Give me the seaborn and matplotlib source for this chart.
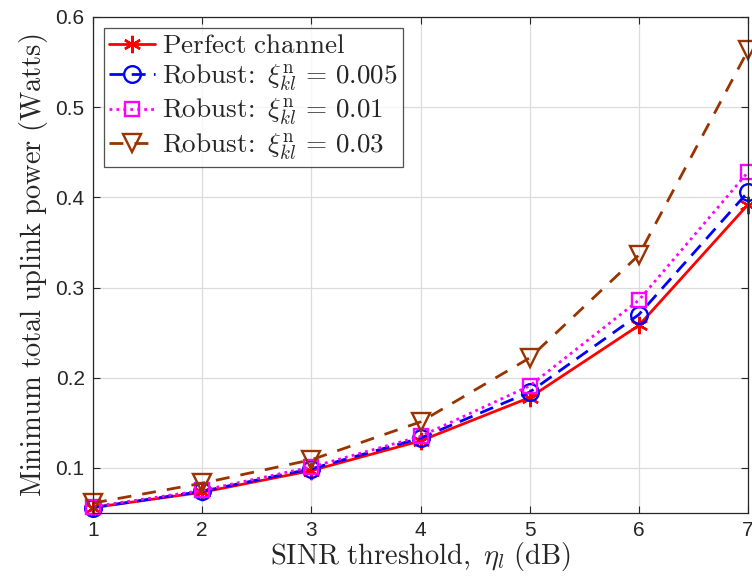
import numpy as np
import pandas as pd
import matplotlib
matplotlib.use("Agg")
import matplotlib.pyplot as plt
import seaborn as sns

# SINR threshold (dB)
sinr_db = [1, 2, 3, 4, 5, 6, 7]

# minimum total uplink power (W)
perfect = [0.056, 0.073, 0.097, 0.130, 0.178, 0.258, 0.392]
robust_005 = [0.056, 0.074, 0.099, 0.133, 0.184, 0.270, 0.406]
robust_01 = [0.057, 0.075, 0.101, 0.135, 0.191, 0.286, 0.428]
robust_03 = [0.061, 0.083, 0.109, 0.151, 0.222, 0.336, 0.563]

labels = [
    r"$\mathrm{Perfect\ channel}$",
    r"$\mathrm{Robust\!:}\ \xi_{kl}^{\mathrm{n}}\,=\,0.005$",
    r"$\mathrm{Robust\!:}\ \xi_{kl}^{\mathrm{n}}\,=\,0.01$",
    r"$\mathrm{Robust\!:}\ \xi_{kl}^{\mathrm{n}}\,=\,0.03$",
]

sns.set_style("white")
plt.rcParams["mathtext.fontset"] = "cm"
plt.rcParams["font.family"] = ["Liberation Sans", "DejaVu Sans"]

fig = plt.figure(figsize=(7.52, 5.86), dpi=100)
ax = fig.add_axes([0.1237, 0.1246, 0.8710, 0.8464])

# asterisk marker like matlab '*'
series = [
    (perfect, "#ff0000", "-", (6, 2, 0), 12.5),
    (robust_005, "#0000ff", (0, (5, 3)), "o", 12),
    (robust_01, "#ff00ff", (0, (1, 1.5)), "s", 10.5),
    (robust_03, "#993300", (0, (5, 4)), "v", 13),
]

for (vals, col, ls, mk, ms), lab in zip(series, labels):
    df = pd.DataFrame({"x": sinr_db, "y": vals})
    sns.lineplot(data=df, x="x", y="y", ax=ax, color=col, linestyle=ls,
                 marker=mk, markersize=ms, markerfacecolor="none",
                 markeredgecolor=col, markeredgewidth=1.7, linewidth=2,
                 label=lab, clip_on=False)

ax.set_xlim(1, 7)
ax.set_ylim(0.05, 0.6)
ax.set_xticks(sinr_db)
ax.set_yticks([0.1, 0.2, 0.3, 0.4, 0.5, 0.6])
ax.set_yticklabels(["0.1", "0.2", "0.3", "0.4", "0.5", "0.6"])
ax.grid(True, color="#dcdcdc", linewidth=0.9)
ax.set_axisbelow(True)
for sp in ax.spines.values():
    sp.set_visible(True)
    sp.set_color("#262626")
    sp.set_linewidth(0.9)
ax.tick_params(direction="in", length=5, labelsize=15, colors="#262626",
               top=True, right=True, bottom=True, left=True, pad=6)

ax.set_xlabel(r"$\mathrm{SINR\ threshold,}\ \eta_l\ \mathrm{(dB)}$", fontsize=20.5,
              color="#262626", labelpad=0)
ax.set_ylabel(r"$\mathrm{Minimum\ total\ uplink\ power\ (Watts)}$", fontsize=20.5,
              color="#262626", labelpad=4)

leg = ax.legend(loc="upper left", fontsize=19.5, frameon=True, fancybox=False,
                edgecolor="#262626", handlelength=1.7, handletextpad=0.25,
                borderpad=0.2, labelspacing=0.12, borderaxespad=0.4)
leg.get_frame().set_linewidth(0.9)

fig.savefig("out.png", dpi=100)
